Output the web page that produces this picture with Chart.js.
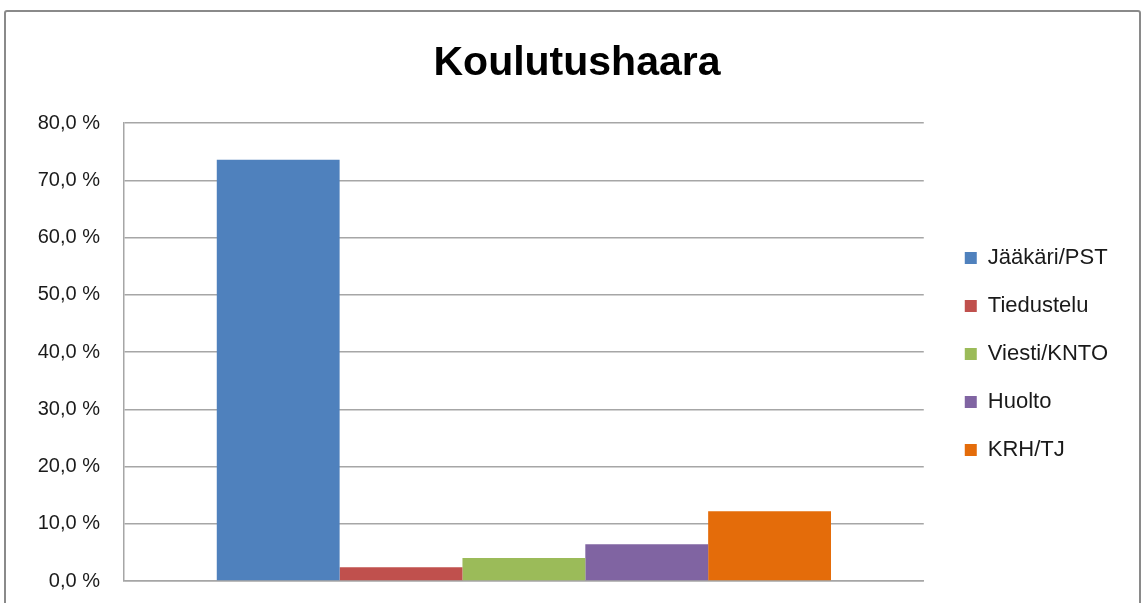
<!DOCTYPE html>
<html>
<head>
<meta charset="utf-8">
<script src="https://cdn.jsdelivr.net/npm/chart.js@4/dist/chart.umd.min.js"></script>
<style>
  html, body { margin: 0; padding: 0; background: #fff; }
  body { width: 1146px; height: 603px; position: relative; overflow: hidden; }
  .frame {
    position: absolute; left: 4px; top: 10px; width: 1137px; height: 620px;
    border: 2px solid #8a8a8a; border-radius: 3px; box-sizing: border-box;
  }
  #chart { position: absolute; left: 0; top: 0; }
</style>
</head>
<body>
<div class="frame"></div>
<!-- canvas runs a bit past the window bottom, like the cut-off frame in the original -->
<canvas id="chart" width="1146" height="617"></canvas>
<script>
'use strict';

// ── DATA ──
const TITLE = 'Koulutushaara';
const categories = [''];
const seriesNames = ['Jääkäri/PST', 'Tiedustelu', 'Viesti/KNTO', 'Huolto', 'KRH/TJ'];
const seriesValues = [73.6, 2.4, 4.0, 6.4, 12.2];
const seriesColors = ['#4F81BD', '#C0504D', '#9BBB59', '#8064A2', '#E46C0A'];
const yTicks = [0, 10, 20, 30, 40, 50, 60, 70, 80];

const FONT = "'Liberation Sans', Arial, sans-serif";
const GRID = '#a6a6a6';

const datasets = seriesNames.map((name, i) => ({
  label: name,
  data: [seriesValues[i]],
  backgroundColor: seriesColors[i],
  borderWidth: 0,
  barPercentage: 1.0,
  categoryPercentage: 0.768,
}));

new Chart(document.getElementById('chart').getContext('2d'), {
  type: 'bar',
  data: { labels: categories, datasets },
  options: {
    responsive: false,
    animation: false,
    layout: { padding: { top: 18, left: 36, right: 28, bottom: 9 } },
    plugins: {
      title: {
        display: true,
        text: TITLE,
        color: '#000',
        font: { family: FONT, size: 41, weight: 'bold' },
        padding: { top: 21, bottom: 34.8 },
      },
      legend: {
        position: 'right',
        // empty legend title only pushes the item column down
        title: { display: true, text: ' ', font: { size: 10 }, padding: { top: 0, bottom: 70 } },
        labels: {
          color: '#1a1a1a',
          font: { family: FONT, size: 22 },
          boxWidth: 12,
          boxHeight: 12,
          padding: 26,
        },
      },
      tooltip: { enabled: false },
    },
    scales: {
      x: {
        afterFit: (axis) => { axis.height = 0; },
        grid: { display: false, drawTicks: false },
        border: { display: true, color: GRID, width: 1.5 },
        ticks: { display: false },
      },
      y: {
        min: 0,
        max: 80,
        afterBuildTicks: (axis) => { axis.ticks = yTicks.map(v => ({ value: v })); },
        afterFit: (axis) => { axis.width = 88; },
        grid: { color: GRID, lineWidth: 1.5, drawTicks: false },
        border: { display: true, color: GRID, width: 1.5 },
        ticks: {
          color: '#1a1a1a',
          font: { family: FONT, size: 20 },
          padding: 24,
          callback: (v) => v.toFixed(1).replace('.', ',') + ' %',
        },
      },
      // spacer between plot and legend
      gap: {
        position: 'right',
        type: 'linear',
        afterFit: (axis) => { axis.width = 15; },
        grid: { display: false, drawTicks: false },
        border: { display: false },
        ticks: { display: false },
      },
    },
  },
});
</script>
</body>
</html>
